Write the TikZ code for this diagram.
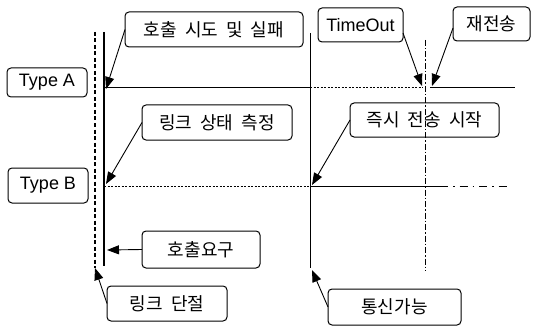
\documentclass[tikz,border=0pt]{standalone}
\usepackage{fontspec}
\setmainfont{Liberation Sans}
\newfontfamily\kr{Noto Sans CJK KR}
\usetikzlibrary{arrows.meta,calc}
\newcommand\ksp{\hskip0.45em\relax}
\tikzset{
  framebox/.style={draw, rounded corners=4pt, line width=1pt, inner sep=0pt, outer sep=0pt},
  latinlbl/.style={font=\fontsize{18}{20}\selectfont},
  hanlbl/.style={font=\kr\fontsize{18}{20}\selectfont},
  callarrow/.style={line width=0.9pt, -{Triangle[length=12pt,width=9pt]}},
  solidl/.style={line width=1pt},
  dotl/.style={line width=1pt, dash pattern=on 2pt off 1.5pt},
  dashl/.style={line width=1.1pt, dash pattern=on 4pt off 2.5pt},
  ddl/.style={line width=1pt, dash pattern=on 6pt off 2pt on 1.5pt off 2pt},
}
\begin{document}
\begin{tikzpicture}[x=1pt,y=1pt]
\useasboundingbox (0,0) rectangle (540,-326);

% boxes
\node[framebox, latinlbl, minimum width=80pt, minimum height=29pt] (typeA) at (47,-82.5) {Type A};
\node[framebox, latinlbl, minimum width=80pt, minimum height=35pt] (typeB) at (48,-185.5) {Type B};
\node[framebox, hanlbl, minimum width=178pt, minimum height=35pt] (callfail) at (214,-29.5) {호출\ksp 시도\ksp 및\ksp 실패};
\node[framebox, latinlbl, minimum width=85pt, minimum height=34pt] (timeout) at (360.5,-25) {TimeOut};
\node[framebox, hanlbl, minimum width=77pt, minimum height=34pt] (retrans) at (491.5,-24) {재전송};
\node[framebox, hanlbl, minimum width=150pt, minimum height=35pt] (measure) at (217,-122.5) {링크\ksp 상태\ksp 측정};
\node[framebox, hanlbl, minimum width=149pt, minimum height=34pt] (startnow) at (424.5,-120) {즉시\ksp 전송\ksp 시작};
\node[framebox, hanlbl, minimum width=118pt, minimum height=37pt] (request) at (201,-249.5) {호출요구};
\node[framebox, hanlbl, minimum width=120pt, minimum height=35pt] (cut) at (167,-303.5) {링크\ksp 단절};
\node[framebox, hanlbl, minimum width=133pt, minimum height=36pt] (avail) at (394.5,-307) {통신가능};

% coordinates of lines
\coordinate (dvT) at (95,-32);   \coordinate (dvB) at (95,-268);
\coordinate (svT) at (104,-32);  \coordinate (svB) at (104,-266);
\coordinate (mvT) at (310,-33);  \coordinate (mvB) at (310,-268);
\coordinate (rvT) at (425,-40);  \coordinate (rvB) at (425,-271);
\coordinate (a0) at (104,-88); \coordinate (a1) at (310,-88); \coordinate (a2) at (423,-88);
\coordinate (a3) at (430,-88); \coordinate (a4) at (515,-88);
\coordinate (b0) at (104,-186); \coordinate (b1) at (310,-186); \coordinate (b2) at (440,-186);
\coordinate (b3) at (510,-186);

% vertical lines
\draw[dashl] (dvT) -- (dvB);
\draw[solidl, line width=1.2pt] (svT) -- (svB);
\draw[solidl] (mvT) -- (mvB);
\draw[ddl] (rvT) -- (rvB);

% Type A line
\draw[solidl] (a0) -- (a1);
\draw[dotl] (a1) -- (a2);
\draw[solidl] (a3) -- (a4);
% Type B line
\draw[dotl] (b0) -- (b1);
\draw[solidl] (b1) -- (b2);
\draw[line width=0.8pt, dash pattern=on 8pt off 5pt on 1.5pt off 5pt] (b2) -- (b3);

% arrow tips
\coordinate (tA) at (106,-89);
\coordinate (tTO) at (422,-86);
\coordinate (tRT) at (432,-86);
\coordinate (tMS) at (106,-184);
\coordinate (tST) at (312,-185);
\coordinate (tRQ) at (107,-250);
\coordinate (tCT) at (95,-268);
\coordinate (tAV) at (312,-270);
\coordinate (sTO) at ($(timeout.south east)+(0,9)$);
\coordinate (sRT) at ($(retrans.west)+(0,-4)$);

\draw[callarrow] (callfail.west) -- (tA);
\draw[callarrow] (sTO) -- (tTO);
\draw[callarrow] (sRT) -- (tRT);
\draw[callarrow] (measure.west) -- (tMS);
\draw[callarrow] (startnow.west) -- (tST);
\draw[callarrow] (request.west) -- (tRQ);
\draw[callarrow] (cut.west) -- (tCT);
\draw[callarrow] (avail.west) -- (tAV);
\end{tikzpicture}
\end{document}
